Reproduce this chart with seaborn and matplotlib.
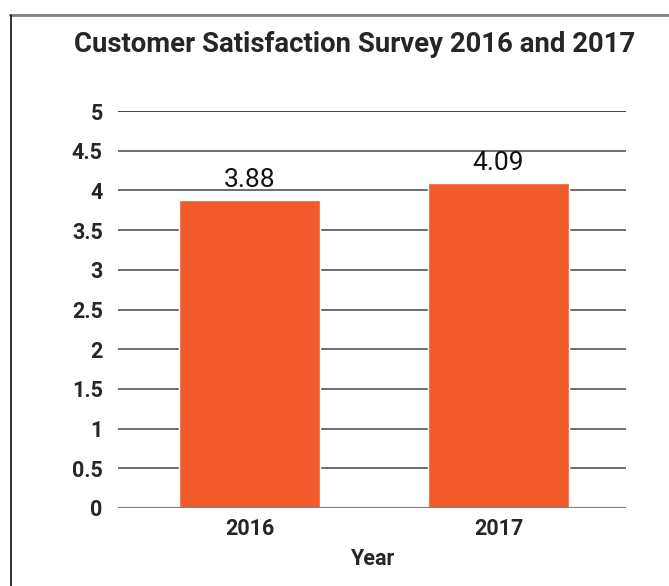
import matplotlib
matplotlib.use("Agg")
import matplotlib.pyplot as plt
import seaborn as sns
import pandas as pd
from matplotlib.lines import Line2D

years = ["2016", "2017"]
scores = [3.88, 4.09]
yticks = [0, 0.5, 1, 1.5, 2, 2.5, 3, 3.5, 4, 4.5, 5]
ytick_labels = ["0", "0.5", "1", "1.5", "2", "2.5", "3", "3.5", "4", "4.5", "5"]

sns.set_style("white")
plt.rcParams["font.family"] = ["Roboto", "DejaVu Sans"]

df = pd.DataFrame({"Year": years, "Score": scores})

W, H = 669, 586
fig = plt.figure(figsize=(W / 100, H / 100), dpi=100)
ax = fig.add_axes([118 / W, 1 - 508 / H, (626 - 118) / W, (508 - 111) / H])

sns.barplot(data=df, x="Year", y="Score", color="#F15A2B", width=0.566,
            saturation=1, ax=ax, zorder=3)

ax.set_ylim(0, 5)
ax.set_xlim(-0.528, 1.512)
ax.set_yticks(yticks)
ax.set_yticklabels(ytick_labels)
for y in yticks:
    col = "#111111" if y == 5 else ("#808080" if y == 0 else "#444444")
    lw = 1.6 if y == 0 else 1.1
    ax.axhline(y, color=col, lw=lw, zorder=1 if y else 4)

for s in ax.spines.values():
    s.set_visible(False)
ax.tick_params(axis="both", length=0, labelsize=15.5)
ax.tick_params(axis="y", pad=11)
ax.tick_params(axis="x", pad=7)
for lab in ax.get_yticklabels() + ax.get_xticklabels():
    lab.set_fontweight("bold")

for i, v in enumerate(scores):
    ax.text(i, v + 0.1, f"{v:.2f}", ha="center", va="bottom", fontsize=19,
            color="#111111", zorder=5)

ax.set_ylabel("")
ax.set_xlabel("Year", fontsize=15.5, fontweight="bold", labelpad=6)

fig.text(355 / W, 1 - 45 / H, "Customer Satisfaction Survey 2016 and 2017",
         ha="center", va="center", fontsize=19.8, fontweight="bold")

fig.add_artist(Line2D([10 / W, 1.01], [1 - 15 / H, 1 - 15 / H], color="#808080",
                      lw=2, transform=fig.transFigure))
fig.add_artist(Line2D([10.5 / W, 10.5 / W], [1 - 15 / H, -0.01], color="#111111",
                      lw=1.2, transform=fig.transFigure))

fig.savefig("out.png", dpi=100)
